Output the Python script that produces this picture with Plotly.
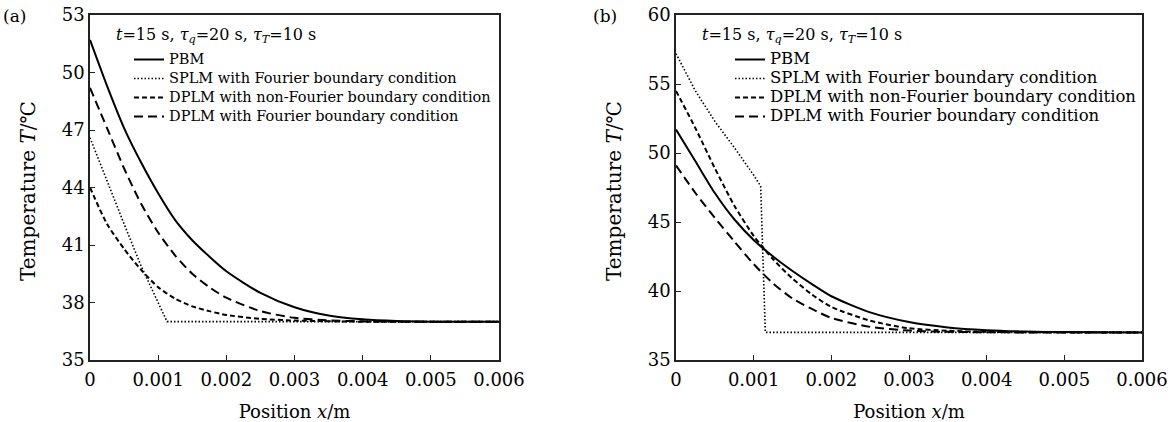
import plotly.graph_objects as go

# position grid (m) shared by the smooth curves
x_grid = [0, 0.00025, 0.0005, 0.00075, 0.001, 0.00125, 0.0015, 0.00175,
          0.002, 0.0025, 0.003, 0.0035, 0.004, 0.0045, 0.005, 0.006]

# panel (a) temperatures, deg C
a_pbm = [51.7, 49.3, 47.1, 45.3, 43.7, 42.3, 41.25, 40.4,
         39.63, 38.5, 37.75, 37.32, 37.12, 37.03, 37.0, 37.0]
a_dplm_nf = [44.0, 42.1, 40.8, 39.7, 38.8, 38.2, 37.8, 37.55,
             37.35, 37.15, 37.06, 37.02, 37.0, 37.0, 37.0, 37.0]
a_dplm_f = [49.2, 47.1, 45.0, 43.15, 41.65, 40.45, 39.5, 38.8,
            38.25, 37.55, 37.2, 37.07, 37.02, 37.0, 37.0, 37.0]
a_splm_x = [0, 0.00025, 0.0005, 0.00075, 0.001, 0.00113, 0.006]
a_splm = [46.6, 44.3, 42.1, 39.9, 38.0, 37.0, 37.0]

# panel (b) temperatures, deg C
b_pbm = [51.7, 49.4, 47.1, 45.2, 43.7, 42.5, 41.45, 40.5,
         39.62, 38.45, 37.75, 37.36, 37.16, 37.06, 37.02, 37.0]
b_dplm_nf = [54.5, 51.8, 48.9, 46.2, 44.0, 42.3, 40.9, 39.75,
             38.85, 37.85, 37.3, 37.12, 37.04, 37.01, 37.0, 37.0]
b_dplm_f = [49.1, 47.1, 45.3, 43.6, 41.95, 40.55, 39.45, 38.7,
            38.05, 37.4, 37.13, 37.04, 37.01, 37.0, 37.0, 37.0]
b_splm_x = [0, 0.00025, 0.0005, 0.00075, 0.001, 0.00109, 0.00115, 0.006]
b_splm = [57.2, 54.5, 52.3, 50.4, 48.4, 47.6, 37.0, 37.0]

x_ticks = [0, 0.001, 0.002, 0.003, 0.004, 0.005, 0.006]
x_ticktext = ["0", "0.001", "0.002", "0.003", "0.004", "0.005", "0.006"]
a_yticks = [35, 38, 41, 44, 47, 50, 53]
b_yticks = [35, 40, 45, 50, 55, 60]

names = ["PBM", "SPLM with Fourier boundary condition",
         "DPLM with non-Fourier boundary condition",
         "DPLM with Fourier boundary condition"]

FONT = "DejaVu Serif"
styles = [dict(dash="solid", width=2), dict(dash="1.5px,2px", width=1.6),
          dict(dash="5px,3px", width=2), dict(dash="9px,5px", width=2)]

fig = go.Figure()

# panel (b) of the original is stretched sideways, so its legend text is wider
panels = [
    ("x", "y", "legend", 14.5, [(x_grid, a_pbm), (a_splm_x, a_splm), (x_grid, a_dplm_nf), (x_grid, a_dplm_f)]),
    ("x2", "y2", "legend2", 16.5, [(x_grid, b_pbm), (b_splm_x, b_splm), (x_grid, b_dplm_nf), (x_grid, b_dplm_f)]),
]
for xa, ya, leg, fs, series in panels:
    for i, (xs, ys) in enumerate(series):
        # legend font is small so rows sit close; the span makes the text bigger
        fig.add_trace(go.Scatter(
            x=xs, y=ys, mode="lines", xaxis=xa, yaxis=ya, legend=leg,
            name='<span style="font-size:%gpx">%s</span>' % (fs, names[i]),
            line=dict(color="black", shape="linear" if i == 1 else "spline",
                      smoothing=0.7, **styles[i])))

W, H = 1172, 422
ydom = [1 - 360 / H, 1 - 15 / H]

axis_common = dict(showline=True, linecolor="#222", linewidth=1.5, mirror=True,
                   ticks="inside", ticklen=5, tickwidth=1.2, tickcolor="#222",
                   showgrid=False, zeroline=False, automargin=False,
                   tickfont=dict(family=FONT, size=18, color="black"))

xt_font = dict(family=FONT, size=18, color="black")

fig.update_layout(
    width=W, height=H, margin=dict(l=0, r=0, t=0, b=0, autoexpand=False),
    paper_bgcolor="white", plot_bgcolor="white", showlegend=True,
    font=dict(family=FONT, color="black"),
    xaxis=dict(domain=[90 / W, 499 / W], range=[0, 0.006], anchor="y",
               tickvals=x_ticks, ticktext=x_ticktext, ticklabelstandoff=3,
               title=dict(text="Position <i>x</i>/m", font=xt_font, standoff=17),
               **axis_common),
    yaxis=dict(domain=ydom, range=[35, 53], anchor="x", tickvals=a_yticks,
               ticksuffix="\u00a0", **axis_common),
    xaxis2=dict(domain=[676 / W, 1142 / W], range=[0, 0.006], anchor="y2",
                tickvals=x_ticks, ticktext=x_ticktext, ticklabelstandoff=3,
                title=dict(text="Position <i>x</i>/m", font=xt_font, standoff=17),
                **axis_common),
    yaxis2=dict(domain=ydom, range=[35, 60], anchor="x2", tickvals=b_yticks,
                ticksuffix="\u00a0", **axis_common),
    legend=dict(x=129 / W, y=1 - 45 / H, xanchor="left", yanchor="top",
                bgcolor="rgba(0,0,0,0)", font=dict(family=FONT, size=12, color="black")),
    legend2=dict(x=730 / W, y=1 - 45 / H, xanchor="left", yanchor="top",
                 bgcolor="rgba(0,0,0,0)", font=dict(family=FONT, size=12, color="black")),
)

# y titles as rotated annotations so they sit exactly where the reference has them
for x0 in (28, 614):
    fig.add_annotation(text="Temperature <i>T</i>/℃", xref="paper", yref="paper",
                       x=x0 / W, y=1 - 191 / H, textangle=-90, showarrow=False,
                       xanchor="center", yanchor="middle",
                       font=dict(family=FONT, size=20, color="black"))

cond = "<i>t</i>=15 s, <i>τ</i><sub><i>q</i></sub>=20 s, <i>τ</i><sub><i>T</i></sub>=10 s"
for x0 in (114, 700):
    fig.add_annotation(text=cond, xref="paper", yref="paper", x=x0 / W, y=1 - 35 / H,
                       xanchor="left", yanchor="middle", align="left", showarrow=False,
                       font=dict(family=FONT, size=16, color="black"))
for lab, x0 in (("(a)", 1), ("(b)", 591)):
    fig.add_annotation(text=lab, xref="paper", yref="paper", x=x0 / W, y=1 - 16 / H,
                       xanchor="left", yanchor="middle", showarrow=False,
                       font=dict(family=FONT, size=17, color="black"))

# drop the page's default body margin so the figure sits at the window corner
fig.write_html("out.html", config={"displayModeBar": False},
               post_script="document.body.style.margin='0';")
